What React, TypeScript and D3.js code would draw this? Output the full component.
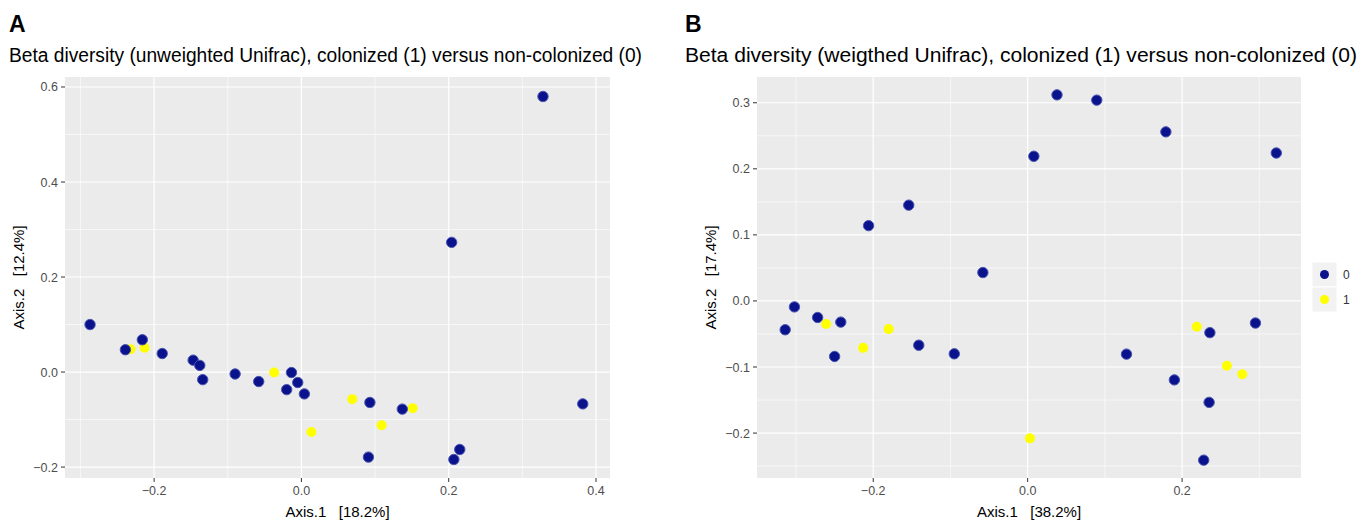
import React from 'react';
import * as d3 from 'd3';

// panel A: unweighted Unifrac, [Axis.1, Axis.2]
const unweightedGroup0 = [
  [-0.287, 0.1], [-0.216, 0.068], [-0.239, 0.047], [-0.189, 0.039], [-0.147, 0.025],
  [-0.138, 0.014], [-0.134, -0.016], [-0.09, -0.004], [-0.058, -0.02], [-0.0135, -0.001],
  [-0.005, -0.022], [-0.02, -0.037], [0.004, -0.046], [0.093, -0.064], [0.137, -0.078],
  [0.091, -0.179], [0.215, -0.163], [0.207, -0.184], [0.204, 0.273], [0.328, 0.58],
  [0.382, -0.067],
];
const unweightedGroup1 = [
  [-0.232, 0.048], [-0.213, 0.051], [-0.037, -0.001], [0.0135, -0.126], [0.069, -0.057],
  [0.151, -0.076], [0.109, -0.112],
];

// panel B: weighted Unifrac
const weightedGroup0 = [
  [-0.314, -0.0436], [-0.302, -0.009], [-0.272, -0.025], [-0.242, -0.032], [-0.25, -0.084],
  [-0.206, 0.114], [-0.154, 0.145], [-0.141, -0.067], [-0.095, -0.08], [-0.058, 0.043],
  [0.008, 0.219], [0.038, 0.312], [0.0895, 0.304], [0.179, 0.256], [0.322, 0.224],
  [0.128, -0.0805], [0.19, -0.1195], [0.236, -0.048], [0.295, -0.0334], [0.235, -0.1535],
  [0.228, -0.241],
];
const weightedGroup1 = [
  [-0.261, -0.035], [-0.213, -0.071], [-0.18, -0.0426], [0.003, -0.208], [0.219, -0.039],
  [0.258, -0.098], [0.278, -0.111],
];

const xTicksA = [-0.2, 0, 0.2, 0.4];
const yTicksA = [-0.2, 0, 0.2, 0.4, 0.6];
const xTicksB = [-0.2, 0, 0.2];
const yTicksB = [-0.2, -0.1, 0, 0.1, 0.2, 0.3];

const legendLabels = ['0', '1'];
const NAVY = '#0a128c';
const YELLOW = '#ffff00';
const FONT = '"Liberation Sans", Arial, Helvetica, sans-serif';

function minorOf(ticks: number[]) {
  const out: number[] = [];
  for (let i = 0; i < ticks.length - 1; i++) out.push((ticks[i] + ticks[i + 1]) / 2);
  const step = ticks[1] - ticks[0];
  out.push(ticks[0] - step / 2);
  out.push(ticks[ticks.length - 1] + step / 2);
  return out;
}

function Panel(props: any) {
  const { left, right, top, bottom, xDomain, yDomain, xTicks, yTicks, g0, g1,
    letter, title, titleWidth, xLabel, yLabel, titleX } = props;
  const x = d3.scaleLinear().domain(xDomain).range([left, right]);
  const y = d3.scaleLinear().domain(yDomain).range([bottom, top]);
  const inX = (v: number) => v >= xDomain[0] && v <= xDomain[1];
  const inY = (v: number) => v >= yDomain[0] && v <= yDomain[1];
  const fmt = d3.format('.1f');
  return (
    <g fontFamily={FONT}>
      <text x={titleX} y={32} fontSize={23} fontWeight="bold">{letter}</text>
      <text x={titleX} y={62} fontSize={19.5} textLength={titleWidth} lengthAdjust="spacingAndGlyphs">{title}</text>
      <rect x={left} y={top} width={right - left} height={bottom - top} fill="#ebebeb" />
      {minorOf(xTicks).filter(inX).map((t) => (
        <line key={'mx' + t} x1={x(t)} x2={x(t)} y1={top} y2={bottom} stroke="#fff" strokeWidth={0.6} />
      ))}
      {minorOf(yTicks).filter(inY).map((t) => (
        <line key={'my' + t} x1={left} x2={right} y1={y(t)} y2={y(t)} stroke="#fff" strokeWidth={0.6} />
      ))}
      {xTicks.map((t: number) => (
        <g key={'x' + t}>
          <line x1={x(t)} x2={x(t)} y1={top} y2={bottom} stroke="#fff" strokeWidth={1.2} />
          <line x1={x(t)} x2={x(t)} y1={bottom} y2={bottom + 4} stroke="#333" strokeWidth={1} />
          <text x={x(t)} y={bottom + 17} fontSize={12.5} fill="#4d4d4d" textAnchor="middle">{fmt(t)}</text>
        </g>
      ))}
      {yTicks.map((t: number) => (
        <g key={'y' + t}>
          <line x1={left} x2={right} y1={y(t)} y2={y(t)} stroke="#fff" strokeWidth={1.2} />
          <line x1={left - 4} x2={left} y1={y(t)} y2={y(t)} stroke="#333" strokeWidth={1} />
          <text x={left - 7} y={y(t) + 4.5} fontSize={12.5} fill="#4d4d4d" textAnchor="end">{fmt(t)}</text>
        </g>
      ))}
      {g1.map((d: number[], i: number) => (
        <circle key={'b' + i} cx={x(d[0])} cy={y(d[1])} r={5} fill={YELLOW} />
      ))}
      {g0.map((d: number[], i: number) => (
        <circle key={'a' + i} cx={x(d[0])} cy={y(d[1])} r={5.2} fill={NAVY} stroke="#4a55b0" strokeWidth={1} />
      ))}
      <text x={(left + right) / 2} y={bottom + 39} fontSize={15} textAnchor="middle"
        style={{ whiteSpace: 'pre' }}>{xLabel}</text>
      <text transform={`translate(${left - 41},${(top + bottom) / 2}) rotate(-90)`} fontSize={15}
        textAnchor="middle" style={{ whiteSpace: 'pre' }}>{yLabel}</text>
    </g>
  );
}

export default function App() {
  const keyY = d3.scaleBand().domain(legendLabels).range([262, 312]);
  return (
    <svg width={1365} height={525} style={{ position: 'absolute', left: 0, top: 0, background: '#fff' }}>
      <Panel left={65} right={610} top={77} bottom={478}
        xDomain={[-0.321, 0.419]} yDomain={[-0.223, 0.621]}
        xTicks={xTicksA} yTicks={yTicksA} g0={unweightedGroup0} g1={unweightedGroup1}
        letter="A" titleX={9} titleWidth={633}
        title="Beta diversity (unweighted Unifrac), colonized (1) versus non-colonized (0)"
        xLabel="Axis.1   [18.2%]" yLabel="Axis.2   [12.4%]" />
      <Panel left={757} right={1301} top={77} bottom={478}
        xDomain={[-0.3505, 0.354]} yDomain={[-0.268, 0.339]}
        xTicks={xTicksB} yTicks={yTicksB} g0={weightedGroup0} g1={weightedGroup1}
        letter="B" titleX={685} titleWidth={672}
        title="Beta diversity (weigthed Unifrac), colonized (1) versus non-colonized (0)"
        xLabel="Axis.1   [38.2%]" yLabel="Axis.2   [17.4%]" />
      <g fontFamily={FONT}>
        {legendLabels.map((l, i) => (
          <g key={l}>
            <rect x={1312} y={keyY(l)} width={25} height={keyY.bandwidth()} fill="#f2f2f2" stroke="#fff" />
            <circle cx={1324.5} cy={(keyY(l) as number) + keyY.bandwidth() / 2} r={4.5}
              fill={i === 0 ? NAVY : YELLOW} />
            <text x={1343} y={(keyY(l) as number) + keyY.bandwidth() / 2 + 4} fontSize={12} fill="#333">{l}</text>
          </g>
        ))}
      </g>
    </svg>
  );
}
